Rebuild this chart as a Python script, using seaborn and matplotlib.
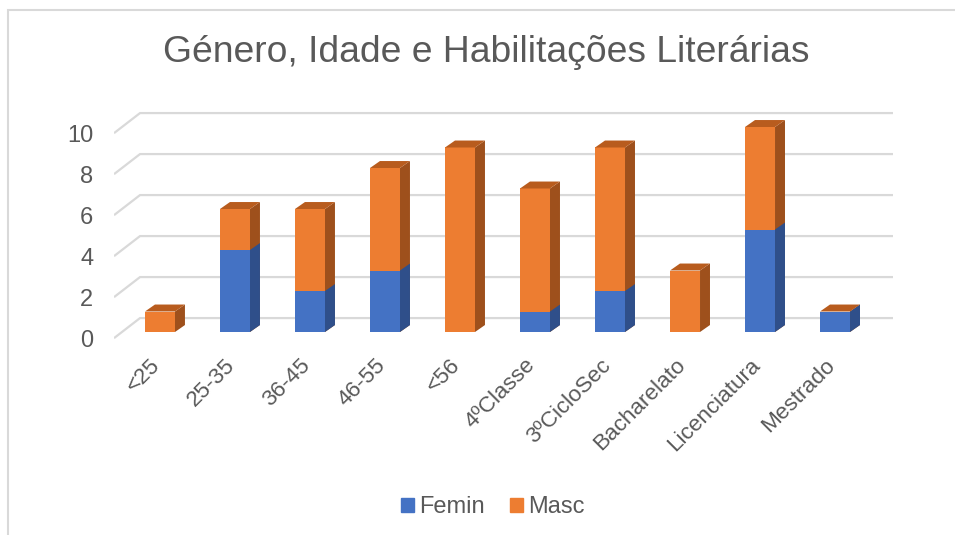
import numpy as np
import pandas as pd
import matplotlib.pyplot as plt
import seaborn as sns
from matplotlib.patches import Polygon, Rectangle, Patch
from matplotlib.transforms import ScaledTranslation

categories = ["<25", "25-35", "36-45", "46-55", "<56", "4ºClasse", "3ºCicloSec",
              "Bacharelato", "Licenciatura", "Mestrado"]
femin = [0, 4, 2, 3, 0, 1, 2, 0, 5, 1]
masc = [1, 2, 4, 5, 9, 6, 7, 3, 5, 0]
y_ticks = [0, 2, 4, 6, 8, 10]

data = pd.DataFrame({"Categoria": categories, "Femin": femin, "Masc": masc})
data["Total"] = data["Femin"] + data["Masc"]

blue, orange = "#4472C4", "#ED7D31"
blue_side, orange_side, orange_top = "#2F4F8A", "#9E501C", "#B85C1E"
grey_txt, grid_c = "#595959", "#D9D9D9"

sns.set_theme(style="white")
plt.rcParams["font.family"] = ["Liberation Sans", "DejaVu Sans"]

fig = plt.figure(figsize=(9.55, 5.35), dpi=100)
ax = fig.add_axes([114 / 955, 1 - 345 / 535, 779 / 955, 240 / 535])

# depth of the 3d box (data units) and of the bars
wall_dx, wall_back, wall_front = 0.347, 0.68, -0.3
bar_dx, bar_dy = 0.133, 0.34

sns.barplot(data=data, x="Categoria", y="Total", color=orange, width=0.4,
            saturation=1, linewidth=0, ax=ax, zorder=3)
sns.barplot(data=data, x="Categoria", y="Femin", color=blue, width=0.4,
            saturation=1, linewidth=0, ax=ax, zorder=3)

n = len(categories)
tot_bars = ax.patches[:n]
fem_bars = ax.patches[n:2 * n]

for tb, fb in zip(tot_bars, fem_bars):
    x0 = tb.get_x()
    x1 = x0 + tb.get_width()
    top = tb.get_height()
    fh = fb.get_height()
    # side faces
    ax.add_patch(Polygon([(x1, 0), (x1 + bar_dx, bar_dy), (x1 + bar_dx, top + bar_dy), (x1, top)],
                         closed=True, facecolor=orange_side, lw=0, zorder=2.9))
    if fh > 0:
        ax.add_patch(Polygon([(x1, 0), (x1 + bar_dx, bar_dy), (x1 + bar_dx, fh + bar_dy), (x1, fh)],
                             closed=True, facecolor=blue_side, lw=0, zorder=2.95))
    # top face
    ax.add_patch(Polygon([(x0, top), (x1, top), (x1 + bar_dx, top + bar_dy), (x0 + bar_dx, top + bar_dy)],
                         closed=True, facecolor=orange_top, lw=0, zorder=3.1))

# back-wall gridlines with the slanted part on the left
x_left = -0.613
for v in y_ticks:
    ax.plot([x_left, x_left + wall_dx, 9.78], [v + wall_front, v + wall_back, v + wall_back],
            color=grid_c, lw=1.6, zorder=1, solid_capstyle="butt")

ax.set_xlim(x_left, 9.773)
ax.set_ylim((332 - 345) / 20.5, (332 - 105) / 20.5)
ax.set_yticks([v + wall_front for v in y_ticks])
ax.set_yticklabels([str(v) for v in y_ticks])
ax.tick_params(axis="y", length=0, pad=15, labelsize=17, labelcolor=grey_txt)
ax.tick_params(axis="x", length=0, pad=7, labelsize=16.2, labelcolor=grey_txt)
ax.set_xticks(range(n))
ax.set_xticklabels(categories, rotation=45, ha="right", rotation_mode="anchor")
for lab in ax.get_xticklabels():
    lab.set_transform(lab.get_transform() + ScaledTranslation(-0.1, 0, fig.dpi_scale_trans))
ax.set_xlabel("")
ax.set_ylabel("")
for s in ax.spines.values():
    s.set_visible(False)
ax.patch.set_alpha(0)

fig.text(0.509, 1 - 52 / 535, "Género, Idade e Habilitações Literárias",
         ha="center", va="center", fontsize=26.8, color=grey_txt)

handles = [Patch(color=blue, label="Femin"), Patch(color=orange, label="Masc")]
fig.legend(handles=handles, loc="center", bbox_to_anchor=(0.516, 1 - 507 / 535), ncol=2,
           frameon=False, fontsize=17, labelcolor=grey_txt, handlelength=0.55,
           handleheight=0.55, handletextpad=0.2, columnspacing=1.1)

fig.patches.append(Rectangle((8 / 955, -0.5), 2, 0.5 + 1 - 10 / 535, transform=fig.transFigure,
                             fill=False, edgecolor=grid_c, lw=1.5))

fig.savefig("out.png", dpi=100)
